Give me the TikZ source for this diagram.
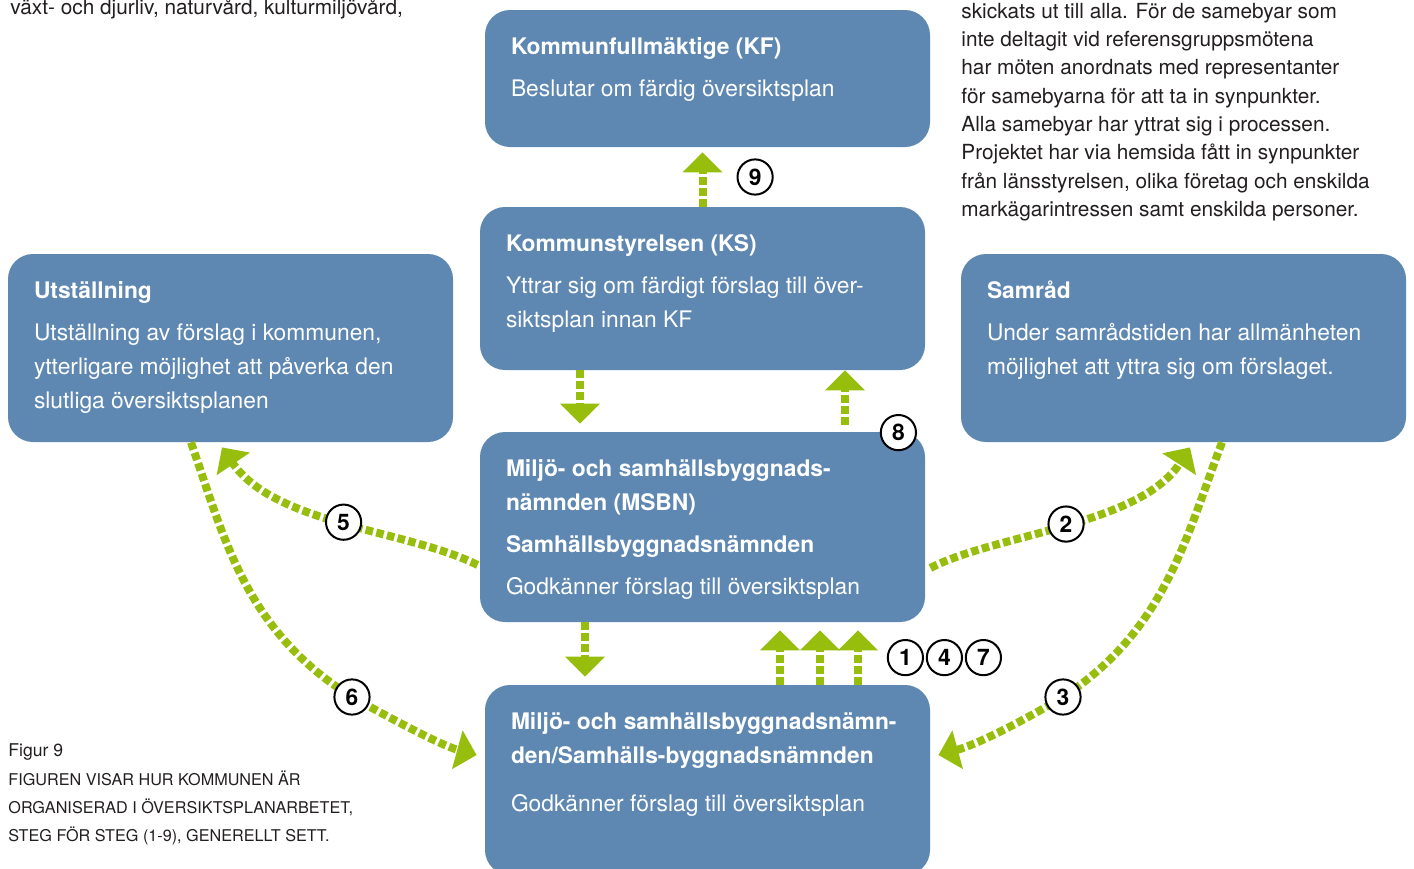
\documentclass[tikz,border=0pt]{standalone}
\usepackage{fontspec}
\setmainfont{TeX Gyre Heros}
\usepackage{tikz}
\usetikzlibrary{arrows.meta}
\definecolor{panelblue}{RGB}{94,136,178}
\definecolor{flowgreen}{RGB}{151,190,13}
\definecolor{notegray}{RGB}{35,31,32}
\tikzstyle{panel} = [rectangle, rounded corners=12.5pt, fill=panelblue, text=white, inner xsep=13pt, inner ysep=10.35pt]
\tikzstyle{flow} = [draw=flowgreen, line width=4pt, dash pattern=on 3.8pt off 1.7pt, -{Triangle[width=19.5pt,length=10pt]}]
\tikzstyle{stepno} = [circle, solid, draw=black, line width=1pt, fill=white, text=black, minimum size=17.6pt, inner sep=0pt, font=\fontsize{11.4}{12}\selectfont\bfseries]
\tikzstyle{note} = [inner sep=0pt, text=notegray, font=\fontsize{10.4}{14.15}\selectfont]
\newcommand{\panelbody}[3]{\parbox[t][#1][t]{196.5pt}{\fontsize{11.4}{17}\selectfont\raggedright\parskip=4pt\strut\textbf{#2}\par #3}}

\begin{document}
\begin{tikzpicture}[x=0.5pt, y=-0.5pt, node distance=105pt]
    \path[use as bounding box, fill=white] (0,0) rectangle (1414,868);

    \node (kf) [panel] at (707.5,78.5) {\panelbody{47.8pt}{Kommunfullmäktige (KF)}{Beslutar om färdig översiktsplan}};
    \node (ks) [panel, below of=kf, xshift=-2.5pt] {\panelbody{60.8pt}{Kommunstyrelsen (KS)}{Yttrar sig om färdigt förslag till över-\\siktsplan innan KF}};
    \node (msbn) [panel, node distance=119.25pt, below of=ks] {\panelbody{74.3pt}{Miljö- och samhällsbyggnads-\\nämnden (MSBN)}{\textbf{Samhällsbyggnadsnämnden}\par Godkänner förslag till översiktsplan}};
    \node (bot) [panel, node distance=126.5pt, below of=msbn, xshift=2.5pt] {\panelbody{74.3pt}{Miljö- och samhällsbyggnadsnämn-\\den/Samhälls-byggnadsnämnden}{\vspace{3pt}Godkänner förslag till översiktsplan}};
    \node (utst) [panel, node distance=236pt, left of=ks, yshift=-29.75pt] {\panelbody{73.3pt}{Utställning}{Utställning av förslag i kommunen,\\ytterligare möjlighet att påverka den\\slutliga översiktsplanen}};
    \node (samr) [panel, node distance=240.5pt, right of=ks, yshift=-29.75pt] {\panelbody{73.3pt}{Samråd}{Under samrådstiden har allmänheten\\möjlighet att yttra sig om förslaget.}};

    \node (topnote) [note, anchor=base west] at (10,14) {växt- och djurliv, naturvård, kulturmiljövård,};
    \node (sidenote) [note, anchor=base west] at (961,18.3) {\parbox[t]{240pt}{skickats ut till alla. För de samebyar som\\inte deltagit vid referensgruppsmötena\\har möten anordnats med representanter\\för samebyarna för att ta in synpunkter.\\Alla samebyar har yttrat sig i processen.\\Projektet har via hemsida fått in synpunkter\\från länsstyrelsen, olika företag och enskilda\\markägarintressen samt enskilda personer.}};
    \node (caption) [note, anchor=base west] at (8,756.7) {\parbox[t]{200pt}{\fontsize{8.8}{14.15}\selectfont Figur 9\\\fontsize{8.1}{14.15}\selectfont FIGUREN VISAR HUR KOMMUNEN ÄR\\ORGANISERAD I ÖVERSIKTSPLANARBETET,\\STEG FÖR STEG (1-9), GENERELLT SETT.}};

    \draw[flow, shorten >=2.5pt] (ks.north) -- (ks.north |- kf.south) node[stepno, midway, right=17pt] {9};
    \draw[flow, shorten >=4pt] ([xshift=-61.25pt]ks.south) -- ([xshift=-61.25pt]msbn.north);
    \draw[flow, shorten <=3.5pt] ([xshift=71.25pt]msbn.north) -- ([xshift=71.25pt]ks.south);
    \draw[flow, shorten >=4pt] ([xshift=-58.75pt]msbn.south) -- ([xshift=-61.25pt]bot.north);
    \foreach \dx/\ex in {36.25/38.75, 56.25/58.75, 75.25/77.75}
        \draw[flow, shorten >=4pt] ([xshift=\dx pt]bot.north) -- ([xshift=\ex pt]msbn.south);

    \draw[flow] ([xshift=-1pt, yshift=-19pt]msbn.west) .. controls (408,530) and (275,525) .. ([xshift=-4.25pt, yshift=-2.5pt]utst.south) node[stepno, pos=0.5] {5};
    \draw[flow] ([xshift=-19.75pt]utst.south) .. controls (225,540) and (245,630) .. (352,697) node[stepno] {6} .. controls (392,719) and (440,745) .. ([xshift=-4pt, yshift=12.5pt]bot.west);
    \draw[flow] ([xshift=2.5pt, yshift=-20.5pt]msbn.east) .. controls (996,534) and (1140,525) .. ([xshift=3.25pt, yshift=-2.5pt]samr.south) node[stepno, pos=0.5] {2};
    \draw[flow] ([xshift=19.25pt]samr.south) .. controls (1185,540) and (1165,630) .. (1063,697) node[stepno] {3} .. controls (1018,724) and (975,745) .. ([xshift=4pt, yshift=12.5pt]bot.east);

    \node (n8) [stepno] at ([xshift=-13.5pt, yshift=-0.5pt]msbn.north east) {8};
    \node (n1) [stepno] at ([xshift=-12.5pt, yshift=13.5pt]bot.north east) {1};
    \node (n4) [stepno, node distance=19.5pt, right of=n1] {4};
    \node (n7) [stepno, node distance=19.5pt, right of=n4] {7};
\end{tikzpicture}
\end{document}
